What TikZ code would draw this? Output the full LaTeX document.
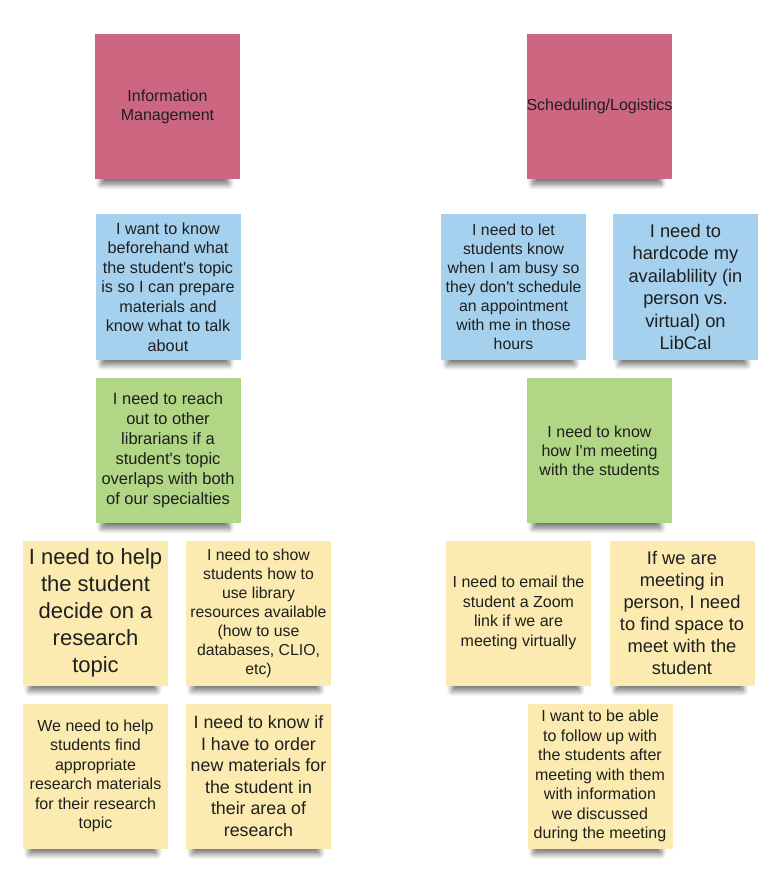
\documentclass[tikz,border=0pt]{standalone}
\usepackage{fontspec}
\setmainfont{Liberation Sans}
\usetikzlibrary{shadows.blur}
\definecolor{notepink}{RGB}{205,102,129}
\definecolor{noteblue}{RGB}{166,209,238}
\definecolor{notegreen}{RGB}{177,214,134}
\definecolor{noteyellow}{RGB}{251,235,176}
\tikzset{
	note/.style={minimum size=145pt,inner sep=2pt,align=center,text=black!88,
		blur shadow={shadow scale=0.88,shadow xshift=-3pt,shadow yshift=-16pt,shadow opacity=55,shadow blur radius=6pt,shadow blur steps=10}},
	fs/.style 2 args={font=\fontsize{#1}{#2}\selectfont}
}
\newcommand{\q}{\textquotesingle}
\begin{document}
\begin{tikzpicture}[x=1pt,y=-1pt]
		\useasboundingbox (0,0) rectangle (782,890);
		% headers
		\node [note,fill=notepink,fs={16}{19}] (info) at (167.5,106.5) {Information\\Management};
		\node [note,fill=notepink,fs={16}{19},inner sep=0pt] (sched) at (599.5,106.5) {Scheduling/Logistics};
		% information management
		\node [note,fill=noteblue,fs={16.2}{19.5}] (know) at (168,287) {I want to know\\beforehand what\\the student\q s topic\\is so I can prepare\\materials and\\know what to talk\\about};
		\node [note,fill=notegreen,fs={16.5}{20}] (reach) at (168,450.5) {I need to reach\\out to other\\librarians if a\\student\q s topic\\overlaps with both\\of our specialties};
		\node [note,fill=noteyellow,fs={22}{27}] (help) at (95.5,613) {I need to help\\the student\\decide on a\\research\\topic};
		\node [note,fill=noteyellow,fs={15.8}{19}] (show) at (258.5,613) {I need to show\\students how to\\use library\\resources available\\(how to use\\databases, CLIO,\\etc)};
		\node [note,fill=noteyellow,fs={16}{19.5}] (find) at (95.5,776) {We need to help\\students find\\appropriate\\research materials\\for their research\\topic};
		\node [note,fill=noteyellow,fs={17.8}{21.5}] (order) at (258.5,776) {I need to know if\\I have to order\\new materials for\\the student in\\their area of\\research};
		% scheduling / logistics
		\node [note,fill=noteblue,fs={15.8}{19}] (let) at (513.5,287) {I need to let\\students know\\when I am busy so\\they don\q t schedule\\an appointment\\with me in those\\hours};
		\node [note,fill=noteblue,fs={18.3}{22.5}] (hardcode) at (685.5,287) {I need to\\hardcode my\\availablility (in\\person vs.\\virtual) on\\LibCal};
		\node [note,fill=notegreen,fs={16}{19}] (how) at (599.5,450.5) {I need to know\\how I\q m meeting\\with the students};
		\node [note,fill=noteyellow,fs={16}{19.5}] (email) at (518.5,613) {I need to email the\\student a Zoom\\link if we are\\meeting virtually};
		\node [note,fill=noteyellow,fs={18.3}{22}] (space) at (682,613) {If we are\\meeting in\\person, I need\\to find space to\\meet with the\\student};
		\node [note,fill=noteyellow,fs={16}{19.5}] (follow) at (600,776) {I want to be able\\to follow up with\\the students after\\meeting with them\\with information\\we discussed\\during the meeting};
	\end{tikzpicture}
\end{document}
